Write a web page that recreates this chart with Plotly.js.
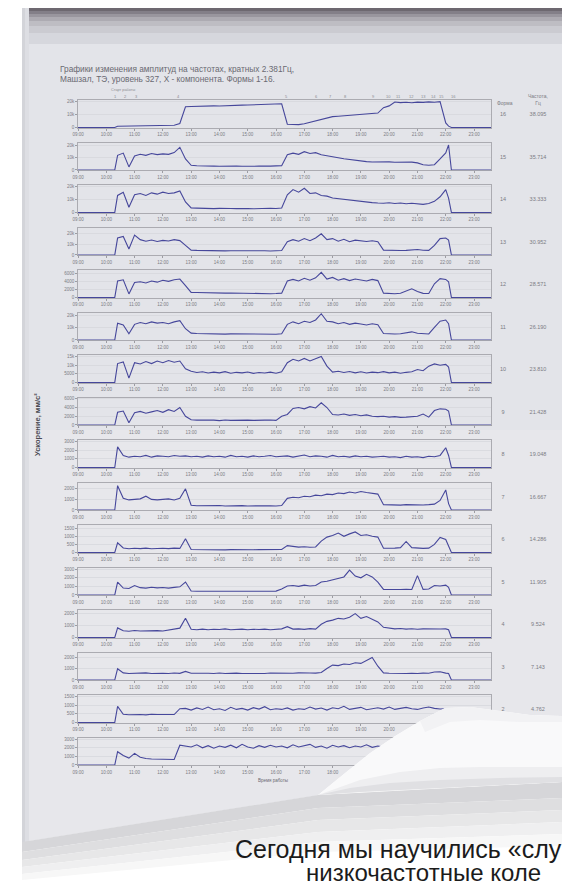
<!DOCTYPE html>
<html>
<head>
<meta charset="utf-8">
<script src="https://cdn.plot.ly/plotly-3.0.1.min.js"></script>
<style>
html,body{margin:0;padding:0;background:#fff;}
#chart{width:562px;height:888px;}
</style>
</head>
<body>
<div id="chart"></div>
<script>
// ---------------- DATA ----------------
// time of work, hours from start of record
const T = [0,0.6,1.2,1.3,
 1.4,1.6,1.8,2.0,2.2,2.4,2.6,2.8,3.0,3.2,3.4,3.6,3.8,
 4.0,4.2,4.4,4.6,4.8,5.0,5.2,5.4,5.6,5.8,6.0,6.2,6.4,6.6,6.8,7.0,7.2,
 7.4,7.6,7.8,8.0,8.2,8.4,8.6,8.8,9.0,9.2,9.4,9.6,9.8,10.0,10.2,10.4,10.6,
 10.8,11.0,11.2,11.4,11.6,11.8,12.0,12.2,12.4,12.6,12.8,
 13.0,13.1,13.2,13.6,14.0,14.6];

const TICK_VALUES = [0,1,2,3,4,5,6,7,8,9,10,11,12,13,14];
const TICK_LABELS = ["09:00","10:00","11:00","12:00","13:00","14:00","15:00","16:00","17:00","18:00","19:00","20:00","21:00","22:00","23:00"];

const FORMS = [16,15,14,13,12,11,10,9,8,7,6,5,4,3,2,1];
const FREQS = ["38.095","35.714","33.333","30.952","28.571","26.190","23.810","21.428","19.048","16.667","14.286","11.905","9.524","7.143","4.762","2.381"];

const EVENT_TIMES = [1.32,1.67,2.08,3.55,7.38,8.44,8.91,9.44,10.44,10.96,11.32,11.79,12.2,12.55,12.85,13.26];
const EVENT_LABELS = ["1","2","3","4","5","6","7","8","9","10","11","12","13","14","15","16"];

// acceleration amplitudes, mm/s²
const F16 = [0,0,0,0,
 900,1000,900,1000,1100,1000,1100,1200,1300,1400,1700,3000,15800,
 16000,16200,16100,16300,16500,16400,16700,16800,16900,17100,17200,17300,17500,17600,17800,17900,18100,
 2500,2100,2200,2800,4000,5200,6400,7600,8300,8600,8900,9200,9500,9900,10300,10600,11000,
 15100,16500,19500,19000,19300,18900,19400,19200,19600,19300,19700,
 3500,1000,0,0,0,0];
const F15 = [0,0,0,0,
 12000,13800,2500,11500,12800,12000,13500,12600,13200,12800,14200,18500,9000,
 3800,3500,3200,3300,3100,3000,3200,2900,3100,3000,2800,3000,3200,2900,3100,3300,3500,
 12500,13800,12800,15000,13500,14200,12500,11500,10800,10000,9200,8500,7600,7000,6800,6500,6700,
 6400,6600,6300,6500,6200,6400,5800,4200,3900,4300,9000,
 14000,20500,0,0,0,0];
const F14 = [0,0,0,0,
 13000,15500,4000,13500,14500,13000,15000,14000,15500,14500,15000,16500,8000,
 3500,3300,3000,3200,2900,3100,2800,3000,2900,3100,3000,2800,3100,2900,3200,3000,3400,
 13500,17500,15500,18500,14500,15000,13000,12500,11000,10500,9500,9000,8500,8200,7800,7500,7200,
 7000,7400,6800,7200,6600,7000,6500,6200,6800,8500,12000,
 17500,11000,0,0,0,0];
const F13 = [0,0,0,0,
 16000,17500,5700,18800,14500,13000,14200,12800,13800,13200,14500,13600,9000,
 4500,4300,4100,4200,4000,4100,3900,4000,4100,3900,4000,3800,3900,4000,3800,3900,4200,
 12500,14500,13000,15500,13500,16000,20000,14500,15500,13000,14800,12500,14000,13200,12800,13500,12500,
 4600,4300,4400,4200,4300,4700,5200,4500,4300,9000,15500,
 16000,14000,0,0,0,0];
const F12 = [0,0,0,0,
 4200,4500,900,3800,4000,3700,4200,3900,4400,4100,4500,4700,3000,
 1300,1250,1200,1250,1150,1200,1100,1150,1100,1050,1100,1000,1050,1000,950,1000,1100,
 4200,4600,4200,4900,4400,5000,6400,4700,5100,4400,4800,4300,4700,4400,4200,4600,4300,
 1100,1000,950,1050,1600,2200,1500,1050,1000,3500,4800,
 4600,4000,0,0,0,0];
const F11 = [0,0,0,0,
 13500,12000,5000,12500,14000,13000,14500,13500,14000,13000,14500,15500,9000,
 5500,5200,5000,5100,4800,5000,4700,4900,4800,4600,4800,4500,4700,4600,4400,4600,5000,
 12500,14500,13000,15000,14000,16000,21000,15000,14500,13000,14000,12500,13500,12800,12000,13000,12200,
 5200,4900,4800,5000,5600,6500,5400,4900,4800,10000,15000,
 16000,13000,0,0,0,0];
const F10 = [0,0,0,0,
 11000,12000,2500,11500,10800,12200,11000,12500,11500,12800,11800,12500,8000,
 6500,5800,6200,5500,6000,5600,6300,5400,5900,5600,6100,5300,5800,5500,6000,5400,6200,
 11500,13500,12500,14000,12500,13800,15200,9500,6000,6500,5800,6400,5600,6200,5500,6000,5700,
 6300,5600,6000,5400,5900,6200,7500,6800,9500,10800,10000,
 10500,9000,0,0,0,0];
const F9 = [0,0,0,0,
 2900,3200,500,2800,3100,2700,3000,3300,2900,3500,3100,4000,2000,
 1200,1100,1150,1050,1100,1000,1150,1050,1100,1000,1100,1050,1000,1100,1150,1050,2000,
 2400,3800,4000,3700,4200,3900,5100,4000,2400,2300,2500,2200,2400,2100,2300,2000,1900,
 2000,1800,1900,1750,1800,1850,2000,2500,1800,3300,3700,
 3600,3200,0,0,0,0];
const F8 = [0,0,0,0,
 2400,1400,1200,1300,1250,1400,1200,1350,1300,1250,1400,1300,1350,
 1250,1300,1200,1350,1250,1300,1200,1400,1250,1300,1200,1350,1250,1300,1400,1250,1300,
 1350,1200,1300,1450,1250,1350,1300,1200,1400,1250,1300,1200,1350,1250,1300,1200,1250,
 1300,1200,1250,1150,1300,1200,1250,1150,1300,1250,1400,
 2300,1400,0,0,0,0];
const F7 = [0,0,0,0,
 2300,1100,950,1000,1050,1300,1000,950,1000,1050,950,1100,2000,
 450,400,420,380,400,420,380,400,390,410,380,400,420,390,400,380,420,
 1100,1200,1150,1300,1250,1400,1350,1500,1450,1600,1550,1700,1600,1750,1650,1600,1500,
 500,480,520,460,500,480,520,470,500,550,900,
 1900,600,0,0,0,0];
const F6 = [0,0,0,0,
 600,280,230,260,240,270,230,250,260,240,270,250,850,
 180,170,160,175,165,170,160,175,165,170,160,170,175,165,170,160,180,
 420,360,330,350,320,340,700,950,1050,1200,1000,1150,1270,1050,1100,1000,950,
 260,250,270,300,680,300,260,250,270,500,930,
 800,400,0,0,0,0];
const F5 = [0,0,0,0,
 1500,800,750,1100,850,800,900,820,860,800,880,950,1500,
 460,440,450,430,450,440,460,430,450,440,430,450,440,460,430,450,700,
 1050,1100,1000,1150,1050,1100,1500,1600,1750,1900,2100,2900,2200,2000,2400,2100,1500,
 650,620,660,630,650,640,2250,650,700,1100,1050,
 1150,900,0,0,0,0];
const F4 = [0,0,0,0,
 800,560,520,580,540,560,520,570,540,600,700,780,1600,
 680,650,700,640,690,660,720,650,680,700,640,690,660,700,650,680,720,
 900,700,720,680,740,700,1100,1350,1450,1600,1550,1700,2000,1600,1750,1550,1300,
 850,780,720,750,700,730,690,720,700,740,710,
 720,650,0,0,0,0];
const F3 = [0,0,0,0,
 980,620,560,600,580,620,570,600,590,560,610,580,750,
 580,600,560,590,570,610,560,590,600,570,560,600,580,570,610,590,620,
 600,580,620,590,610,600,650,1000,1300,1250,1400,1350,1500,1450,1700,1970,1200,
 620,580,560,600,570,590,560,600,580,700,720,
 600,560,0,0,0,0];
const F2 = [0,0,0,0,
 940,480,450,470,460,440,480,460,450,470,460,800,820,
 720,850,760,900,740,800,700,880,760,820,720,860,780,920,740,800,760,
 850,720,800,760,900,780,840,720,860,800,940,760,820,880,740,800,860,
 780,900,760,820,880,800,760,840,900,820,780,
 800,760,0,0,0,0];
const F1 = [0,0,0,0,
 1540,1100,800,1350,900,750,700,680,650,700,640,2300,2200,
 2100,2350,2000,2250,1950,2200,2050,2300,2000,2400,2100,1950,2250,2050,2300,2100,2200,
 2000,2350,2100,2250,2400,2050,2200,1950,2300,2100,2250,2000,2200,2100,2350,2050,2200,
 2100,2250,2000,2200,2100,2300,2050,2150,2200,2000,2100,
 2150,2000,0,0,0,0];

const SERIES = [F16,F15,F14,F13,F12,F11,F10,F9,F8,F7,F6,F5,F4,F3,F2,F1];
const Y_TICKS = [
 [0,10000,20000],[0,10000,20000],[0,10000,20000],[0,10000,20000],
 [0,2000,4000,6000],[0,10000,20000],[0,5000,10000,15000],[0,2000,4000,6000],
 [0,1000,2000,3000],[0,1000,2000],[0,500,1000,1500],[0,1000,2000,3000],
 [0,1000,2000],[0,1000,2000],[0,500,1000,1500],[0,1000,2000,3000]];

// ---------------- LAYOUT ----------------
const W = 562, H = 888;
const AXIS_MAX = [21000,22500,21000,26000,7000,22000,16000,6300,3200,2600,1700,3200,2300,2400,1600,3200];
const PLOT_L = 78, PLOT_R = 491, ROW_TOP0 = 100, ROW_STEP = 42.5, ROW_H = 28;
const FONT = "Liberation Sans, Arial, sans-serif";
const LINE_COLOR = "#46479b";
const TXT = "#7c7c84";

const px = x => x / W;
const py = y => 1 - y / H;
function poly(pts){
  return "M" + pts.map(p => px(p[0]).toFixed(5) + "," + py(p[1]).toFixed(5)).join(" L") + " Z";
}

const data = [];
const layout = {
  width: W, height: H,
  margin: {l:0, r:0, t:0, b:0},
  paper_bgcolor: "#ffffff",
  plot_bgcolor: "rgba(0,0,0,0)",
  showlegend: false,
  font: {family: FONT, color: TXT, size: 5},
  shapes: [], annotations: []
};

SERIES.forEach((ys, i) => {
  const n = i + 1;
  const xk = n === 1 ? "xaxis" : "xaxis" + n;
  const yk = n === 1 ? "yaxis" : "yaxis" + n;
  const top = ROW_TOP0 + ROW_STEP * i;
  data.push({
    type: "scatter", mode: "lines", x: T, y: ys,
    xaxis: "x" + (n === 1 ? "" : n), yaxis: "y" + (n === 1 ? "" : n),
    line: {color: LINE_COLOR, width: 1.1}, hoverinfo: "skip"
  });
  layout[xk] = {
    domain: [px(PLOT_L), px(PLOT_R)], anchor: "y" + (n === 1 ? "" : n),
    range: [0, 14.6], tickmode: "array", tickvals: TICK_VALUES, ticktext: TICK_LABELS,
    showgrid: false, zeroline: false, showline: true, mirror: true,
    linecolor: "#9c9ca2", linewidth: 0.8, ticks: "outside", ticklen: 2, tickcolor: "#9c9ca2",
    tickfont: {size: 4.5, color: TXT, family: FONT}, fixedrange: true
  };
  layout[yk] = {
    domain: [py(top + ROW_H), py(top)], anchor: "x" + (n === 1 ? "" : n),
    range: [-AXIS_MAX[i] * 0.02, AXIS_MAX[i]], tickmode: "array", tickvals: Y_TICKS[i],
    showgrid: true, gridcolor: "#d2d3d9", gridwidth: 0.6, zeroline: false,
    showline: true, mirror: true, linecolor: "#9c9ca2", linewidth: 0.8,
    ticks: "outside", ticklen: 2, tickcolor: "#9c9ca2",
    tickfont: {size: 4.5, color: TXT, family: FONT}, fixedrange: true
  };
});

// full-page overlay axis for labels that sit under the page curl
const OV = SERIES.length + 1;
layout["xaxis" + OV] = {domain: [0,1], range: [0, W], visible: false, fixedrange: true};
layout["yaxis" + OV] = {domain: [0,1], range: [H, 0], visible: false, fixedrange: true};
const rowMid = FORMS.map((f, i) => ROW_TOP0 + ROW_STEP * i + ROW_H / 2 + 1);
data.push({type: "scatter", mode: "text", xaxis: "x" + OV, yaxis: "y" + OV,
  x: FORMS.map(() => 503), y: rowMid, text: FORMS.map(String), cliponaxis: false,
  textfont: {size: 5.5, color: TXT, family: FONT}, hoverinfo: "skip"});
data.push({type: "scatter", mode: "text", xaxis: "x" + OV, yaxis: "y" + OV,
  x: FREQS.map(() => 538), y: rowMid, text: FREQS, cliponaxis: false,
  textfont: {size: 5.5, color: TXT, family: FONT}, hoverinfo: "skip"});

// ---- page background (photo of a printed sheet) ----
const S = layout.shapes;
function rectPx(x0, y0, x1, y1, color, layer, opacity){
  S.push({type: "rect", xref: "paper", yref: "paper", x0: px(x0), x1: px(x1), y0: py(y1), y1: py(y0),
    fillcolor: color, line: {width: 0}, layer: layer || "below", opacity: opacity == null ? 1 : opacity});
}
function polyPx(pts, color, layer, opacity){
  S.push({type: "path", xref: "paper", yref: "paper", path: poly(pts),
    fillcolor: color, line: {width: 0}, layer: layer || "below", opacity: opacity == null ? 1 : opacity});
}
// fold line of the curled corner, and the lower edge of the curled flap
const FOLD = [[562,716],[530,715],[500,711],[470,707],[445,708],[420,721],[395,736],[370,753],[345,773],[318,795]];
const FLAP_LOW = [[318,795],[360,792],[400,790],[440,788],[480,786],[520,784],[562,782]];
// sheet
polyPx([[22,8],[562,8]].concat(FOLD).concat([[22,842]]), "#e3e4e9");
polyPx([[22,430],[562,430]].concat(FOLD).concat([[22,842]]), "#e7e7eb");
// top edge shadow
const topBands = [[8,11,"#6d6870"],[11,14,"#837f88"],[14,17,"#99969e"],[17,21,"#adabb2"],[21,26,"#bebdc3"],[26,33,"#cbcbd1"],[33,44,"#d6d7dd"]];
topBands.forEach(b => rectPx(22, b[0], 562, b[1], b[2]));
// left edge shading
rectPx(22, 8, 25, 842, "#d3d4d9");
rectPx(25, 8, 29, 842, "#dddee3");
// soft shadow on the desk below the sheet and the flap
const shadowBands = [
  [[22,842],[318,795],[562,782],[562,798],[318,808],[22,852],"#d6d6d9"],
  [[22,852],[318,808],[562,798],[562,810],[318,820],[22,860],"#dedee0"],
  [[22,860],[318,820],[562,810],[562,822],[318,832],[22,867],"#e7e7e8"],
  [[22,867],[318,832],[562,822],[562,834],[318,842],[22,874],"#efeff0"],
  [[22,874],[318,842],[562,834],[562,846],[318,852],[22,880],"#f7f7f7"]];
shadowBands.forEach(b => polyPx(b.slice(0, 6), b[6]));

// curled flap (above the traces)
polyPx(FOLD.concat(FLAP_LOW.slice(1)), "#f9f9fa", "above");
polyPx([[318,795],[360,780],[400,772],[440,768],[480,767],[520,767],[562,767],[562,782],[520,784],[480,786],[440,788],[400,790],[360,792]], "#eeeef0", "above");
polyPx([[318,795],[350,788],[390,783],[440,780],[500,778],[562,777],[562,782],[520,784],[480,786],[440,788],[400,790],[360,792]], "#e0e0e3", "above");
polyPx([[420,721],[445,708],[470,707],[500,711],[530,715],[562,716],[562,722],[520,722],[480,720],[450,722],[425,732]], "#f2f2f4", "above");

// ---- texts ----
const A = layout.annotations;
function txt(x, y, s, size, color, opts){
  A.push(Object.assign({xref: "paper", yref: "paper", x: px(x), y: py(y), text: s, showarrow: false,
    xanchor: "left", yanchor: "middle", font: {size: size, color: color, family: FONT}}, opts || {}));
}
txt(58, 69, "Графики изменения амплитуд на частотах, кратных 2.381Гц,", 8.3, "#6a6a72");
txt(58, 78.5, "Машзал, ТЭ, уровень 327, X - компонента. Формы 1-16.", 8.3, "#6a6a72");
txt(123, 90, "Старт работы", 3.8, "#8a8a90", {xanchor: "center"});
EVENT_TIMES.forEach((t, k) => {
  A.push({xref: "x", yref: "paper", x: t, y: py(96.5), text: EVENT_LABELS[k], showarrow: false,
    xanchor: "center", yanchor: "middle", font: {size: 4, color: "#8a8a90", family: FONT}});
});
txt(505, 103, "Форма", 5, TXT, {xanchor: "center"});
txt(538, 100, "Частота,<br>Гц", 5, TXT, {xanchor: "center"});
txt(37, 425, "Ускорение, мм/с²", 7.5, "#4a4a52", {xanchor: "center", textangle: -90, font: {size: 7.5, color: "#4a4a52", family: FONT, weight: "bold"}});
txt(273, 780, "Время работы", 4.5, "#6a6a72", {xanchor: "center"});
txt(233, 849, "Сегодня мы научились «слу", 25, "#1b1b1b");
txt(304, 872, "низкочастотные коле", 24, "#1b1b1b");

Plotly.newPlot("chart", data, layout, {staticPlot: true, displayModeBar: false});
</script>
</body>
</html>
